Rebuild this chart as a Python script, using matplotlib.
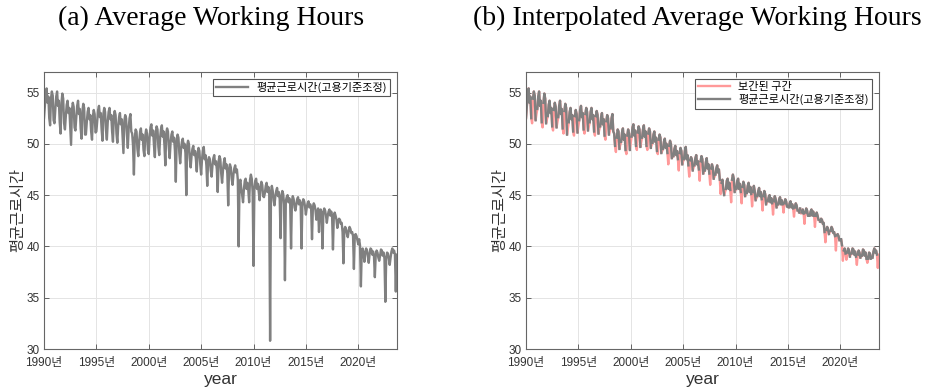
import numpy as np
import matplotlib
matplotlib.use("Agg")
import matplotlib.pyplot as plt

# ---------------- data ----------------
years = list(range(1990, 2024))
last_month_2023 = 9

# interpolated monthly average working hours (Jan..Dec per row)
hours_interp = [
    52.5, 53.7, 54.9, 55.4, 54.0, 54.6, 52.5, 52.0, 54.4, 55.1, 54.7, 52.3,  # 1990
    52.9, 53.4, 54.6, 55.1, 53.7, 54.2, 52.1, 51.6, 54.0, 54.9, 54.4, 52.0,  # 1991
    52.4, 52.7, 53.8, 54.2, 53.0, 53.5, 51.7, 51.3, 53.3, 54.0, 53.6, 51.6,  # 1992
    52.1, 52.6, 53.7, 54.2, 52.9, 53.4, 51.5, 51.0, 53.2, 53.9, 53.5, 50.9,  # 1993
    51.5, 52.1, 53.1, 53.5, 52.4, 52.8, 51.2, 50.8, 52.7, 53.3, 52.9, 51.1,  # 1994
    51.7, 52.3, 53.3, 53.7, 52.6, 53.0, 51.4, 51.0, 52.9, 53.5, 53.1, 51.3,  # 1995
    51.7, 52.1, 53.1, 53.5, 52.4, 52.8, 51.2, 50.8, 52.7, 53.2, 52.8, 51.0,  # 1996
    51.4, 51.7, 52.6, 53.0, 51.9, 52.4, 50.8, 50.4, 52.2, 52.8, 52.5, 50.9,  # 1997
    51.2, 51.5, 52.5, 52.9, 51.2, 51.0, 49.8, 49.2, 50.6, 51.4, 51.2, 49.5,  # 1998
    49.9, 50.2, 51.1, 51.5, 50.4, 50.9, 49.4, 49.0, 50.8, 51.4, 51.0, 49.4,  # 1999
    50.1, 50.7, 51.6, 51.9, 50.8, 51.3, 49.8, 49.4, 51.1, 51.7, 51.4, 49.7,  # 2000
    50.2, 50.6, 51.4, 51.8, 50.7, 51.2, 49.8, 49.4, 51.0, 51.5, 51.2, 49.6,  # 2001
    49.9, 50.1, 50.9, 51.2, 50.2, 50.6, 49.3, 49.0, 50.4, 50.9, 50.6, 49.1,  # 2002
    49.3, 49.5, 50.2, 50.5, 49.6, 50.0, 49.1, 48.0, 49.8, 50.3, 50.0, 48.6,  # 2003
    48.7, 48.8, 49.5, 49.8, 48.9, 49.3, 48.5, 47.4, 49.1, 49.6, 49.3, 48.0,  # 2004
    48.3, 48.5, 49.3, 49.7, 48.5, 48.9, 47.9, 46.8, 48.4, 48.7, 48.5, 47.4,  # 2005
    47.7, 47.9, 48.6, 48.9, 48.0, 48.3, 47.5, 46.4, 48.3, 48.8, 48.5, 47.1,  # 2006
    47.3, 47.4, 48.2, 48.6, 47.6, 48.0, 47.1, 46.0, 47.6, 48.0, 47.7, 46.6,  # 2007
    46.8, 47.0, 47.6, 47.9, 47.2, 47.5, 46.5, 45.1, 46.2, 46.5, 45.6, 45.0,  # 2008
    45.3, 45.6, 46.4, 46.6, 45.6, 46.2, 45.5, 44.3, 46.5, 47.0, 46.6, 45.3,  # 2009
    45.5, 45.6, 46.4, 46.6, 45.6, 46.1, 45.3, 44.2, 45.8, 46.3, 46.0, 44.9,  # 2010
    45.1, 45.2, 45.9, 46.2, 45.3, 45.8, 45.1, 43.9, 45.3, 45.9, 45.4, 44.5,  # 2011
    44.7, 44.9, 45.4, 45.7, 44.9, 45.3, 44.6, 43.5, 44.9, 45.4, 45.1, 44.1,  # 2012
    44.3, 44.4, 44.8, 45.0, 44.3, 44.7, 44.2, 43.1, 44.4, 44.9, 44.6, 43.8,  # 2013
    44.0, 44.1, 44.6, 44.8, 44.1, 44.5, 44.1, 43.3, 44.2, 44.6, 44.4, 43.9,  # 2014
    43.9, 43.8, 44.2, 44.4, 43.8, 44.1, 43.7, 42.9, 43.8, 44.2, 44.0, 43.5,  # 2015
    43.4, 43.3, 43.7, 43.2, 43.3, 43.6, 43.2, 42.2, 43.3, 43.7, 43.5, 43.0,  # 2016
    43.0, 43.0, 43.4, 43.6, 43.0, 43.4, 43.0, 41.9, 43.0, 43.3, 43.0, 42.6,  # 2017
    42.5, 42.4, 42.7, 42.6, 42.2, 42.3, 41.4, 40.4, 41.6, 41.9, 41.7, 41.2,  # 2018
    41.4, 41.5, 41.9, 41.7, 41.3, 41.4, 41.0, 39.6, 41.1, 41.2, 41.0, 40.6,  # 2019
    40.7, 40.7, 40.1, 38.6, 39.6, 39.8, 39.3, 38.7, 39.4, 39.8, 39.6, 39.0,  # 2020
    39.2, 39.3, 39.8, 39.7, 39.2, 39.5, 39.0, 38.2, 39.2, 39.6, 39.4, 38.9,  # 2021
    39.0, 39.1, 39.7, 39.6, 39.1, 39.4, 38.8, 38.4, 38.8, 39.4, 39.3, 38.8,  # 2022
    38.9, 38.9, 39.5, 39.8, 39.4, 39.6, 39.2, 37.9, 39.2,                    # 2023
]

# months that were interpolated, and the raw (unadjusted) values there
interp_months = [
    "1990-08", "1991-01", "1991-08", "1992-01", "1992-08", "1993-01", "1993-08",
    "1994-01", "1994-08", "1995-01", "1995-08", "1996-01", "1996-08", "1997-01",
    "1997-08", "1998-01", "1998-08", "1999-01", "1999-08", "2000-01", "2000-08",
    "2001-01", "2001-08", "2002-01", "2002-08", "2003-01", "2003-08", "2004-01",
    "2004-08", "2005-01", "2005-08", "2006-01", "2006-08", "2007-01", "2007-08",
    "2008-01", "2008-08", "2009-01", "2009-08", "2010-01", "2010-08", "2011-01",
    "2011-08", "2012-01", "2012-08", "2013-01", "2013-08", "2014-01", "2014-08",
    "2015-01", "2015-08", "2016-01", "2016-04", "2016-08", "2017-01", "2017-08",
    "2018-01", "2018-08", "2019-01", "2019-08", "2020-01", "2020-04", "2020-08",
    "2021-01", "2021-08", "2022-01", "2022-08", "2023-01", "2023-08",
]
raw_at_interp = [
    51.8, 52.0, 51.0, 51.4, 49.9, 51.3, 50.5,
    50.9, 50.4, 51.2, 50.3, 50.4, 50.2, 50.1,
    49.1, 49.6, 47.0, 48.8, 48.8, 49.0, 48.7,
    48.9, 47.9, 48.6, 46.3, 48.1, 45.0, 47.7,
    47.3, 47.0, 45.9, 46.8, 45.3, 46.2, 44.0,
    46.0, 40.0, 44.3, 44.3, 38.1, 44.5, 44.8,
    30.8, 44.0, 40.8, 36.7, 39.8, 43.5, 39.8,
    43.1, 40.7, 42.6, 41.4, 39.8, 42.3, 39.7,
    41.8, 38.35, 40.9, 37.8, 40.2, 36.1, 38.5,
    38.4, 37.0, 38.6, 34.6, 38.2, 35.6,
]

year_ticks = [1990, 1995, 2000, 2005, 2010, 2015, 2020]
y_ticks = [30, 35, 40, 45, 50, 55]
label_series = "평균근로시간(고용기준조정)"
label_interp = "보간된 구간"
titles = ["(a) Average Working Hours", "(b) Interpolated Average Working Hours"]

# ---------------- build series ----------------
months = []
for y in years:
    nm = last_month_2023 if y == 2023 else 12
    for m in range(1, nm + 1):
        months.append((y, m))
x = np.array([y + (m - 1) / 12 for y, m in months])
key_index = {f"{y}-{m:02d}": i for i, (y, m) in enumerate(months)}

interp = np.array(hours_interp, dtype=float)
raw = interp.copy()
mask = np.zeros(len(interp), dtype=bool)
for k, v in zip(interp_months, raw_at_interp):
    i = key_index[k]
    raw[i] = v
    mask[i] = True
grey_b = interp.copy()
grey_b[mask] = np.nan

# ---------------- plot ----------------
KR = ["Noto Sans CJK KR", "DejaVu Sans"]
TICKF = ["Liberation Sans", "Noto Sans CJK KR"]
GREY = (0.5, 0.5, 0.5)
PINK = (1.0, 0.6, 0.6)
AXC = "#4d4d4d"

fig = plt.figure(figsize=(9.33, 3.90), dpi=100)
axes = [fig.add_axes([44 / 933, 1 - 349 / 390, 353 / 933, 277 / 390]),
        fig.add_axes([526 / 933, 1 - 349 / 390, 353 / 933, 277 / 390])]

axes[0].plot(x, raw, color=GREY, lw=1.7, label=label_series)
axes[1].plot(x, interp, color=PINK, lw=1.7, label=label_interp)
axes[1].plot(x, grey_b, color=GREY, lw=1.7, label=label_series)

for ax in axes:
    ax.set_xlim(1990, x[-1] + 0.03)
    ax.set_ylim(30, 57)
    ax.set_xticks(year_ticks)
    ax.set_xticklabels([f"{t}년" for t in year_ticks], fontfamily=TICKF, fontsize=8.5)
    ax.set_yticks(y_ticks)
    ax.set_yticklabels([str(t) for t in y_ticks], fontfamily=TICKF, fontsize=8.5)
    ax.tick_params(direction="in", top=True, right=True, length=3.5, width=0.6,
                   colors=AXC, labelcolor="#333333")
    ax.tick_params(axis="x", pad=6)
    ax.tick_params(axis="y", pad=3)
    ax.grid(True, color="#e4e4e4", lw=0.7)
    ax.set_axisbelow(True)
    for s in ax.spines.values():
        s.set_color("#666666")
        s.set_linewidth(0.8)
    ax.set_xlabel("year", fontsize=12.5, fontfamily=TICKF, color="#333333", labelpad=2)
    ax.set_ylabel("평균근로시간", fontsize=11, fontfamily=KR, color="#333333", labelpad=0)
    leg = ax.legend(loc="upper right", prop={"family": KR, "size": 8},
                    handlelength=2.8, borderaxespad=0.6, fancybox=False,
                    framealpha=1, edgecolor="#555555", borderpad=0.3, labelspacing=0.2)
    leg.get_frame().set_linewidth(0.8)

fig.text(211 / 933, 1 - 18 / 390, titles[0], ha="center", va="center",
         fontfamily="Liberation Serif", fontsize=20)
fig.text(697 / 933, 1 - 18 / 390, titles[1], ha="center", va="center",
         fontfamily="Liberation Serif", fontsize=20)

fig.savefig("out.png", dpi=100)
